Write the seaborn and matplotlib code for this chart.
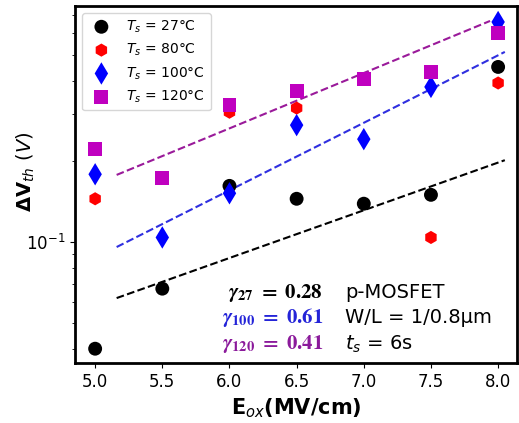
import numpy as np
import pandas as pd
import seaborn as sns
import matplotlib.pyplot as plt

# stress field (MV/cm)
e_ox = [5.0, 5.5, 6.0, 6.5, 7.0, 7.5, 8.0]

# threshold voltage shift (V) per stress temperature
dvth_27 = [0.040, 0.067, 0.162, 0.145, 0.139, 0.150, 0.450]
dvth_80 = [0.145, np.nan, 0.305, 0.316, np.nan, 0.104, 0.392]
dvth_100 = [0.179, 0.104, 0.152, 0.273, 0.242, 0.379, 0.662]
dvth_120 = [0.222, 0.173, 0.325, 0.366, 0.406, 0.431, 0.603]

# fitted lines (start / end)
fit_x = [5.16, 8.05]
fit_27 = [0.0618, 0.202]
fit_100 = [0.0958, 0.512]
fit_x_120 = [5.16, 7.94]
fit_120 = [0.178, 0.668]

gammas = ["0.28", "0.61", "0.41"]

df = pd.DataFrame({"Eox": e_ox * 4,
                   "dVth": dvth_27 + dvth_80 + dvth_100 + dvth_120,
                   "Ts": ["27"] * 7 + ["80"] * 7 + ["100"] * 7 + ["120"] * 7})

fig = plt.figure(figsize=(5.19, 4.23), dpi=100)
ax = fig.add_axes([0.1445, 0.142, 0.8515, 0.844])

styles = {"27": ("k", "o", 100), "80": ("r", "h", 90),
          "100": ("b", "d", 130), "120": ("m", "s", 100)}
for ts, (c, m, s) in styles.items():
    sub = df[df["Ts"] == ts]
    sns.scatterplot(data=sub, x="Eox", y="dVth", color=c, marker=m, s=s,
                    edgecolor="none", label=r"$T_s$ = %s°C" % ts, ax=ax, zorder=3)

sns.lineplot(x=fit_x, y=fit_27, color="k", linestyle="--", lw=1.5, ax=ax)
sns.lineplot(x=fit_x, y=fit_100, color="#2f2fe0", linestyle="--", lw=1.5, ax=ax)
sns.lineplot(x=fit_x_120, y=fit_120, color="#9a1a9a", linestyle="--", lw=1.5, ax=ax)

ax.set_yscale("log")
ax.set_xlim(4.85, 8.14)
ax.set_ylim(0.0354, 0.76)
ax.set_xticks([5.0, 5.5, 6.0, 6.5, 7.0, 7.5, 8.0])
ax.tick_params(labelsize=12)
for sp in ax.spines.values():
    sp.set_linewidth(2)

ax.set_xlabel(r"E$_{ox}$(MV/cm)", fontsize=15, fontweight="bold")
ax.set_ylabel(r"ΔV$_{th}$ $(V)$", fontsize=14, fontweight="bold")
ax.yaxis.set_label_coords(-0.086, 0.535)

ax.legend(loc="upper left", fontsize=10, markerscale=1.0, handletextpad=0.8)

gcolors = ["k", "#2424d8", "#8b1a9b"]
glabels = ["27", "100", "120"]
gy = [0.196, 0.126, 0.053]
for g, c, lab, y in zip(gammas, gcolors, glabels, gy):
    ax.text(0.561, y, r"$\boldsymbol{\gamma}_{\mathbf{%s}}\ \mathbf{=}\ \mathbf{%s}$" % (lab, g),
            color=c, fontsize=15, ha="right", va="center", transform=ax.transAxes,
            math_fontfamily="stix")

info = ["p-MOSFET", "W/L = 1/0.8μm", r"$t_s$ = 6s"]
for t, y in zip(info, gy):
    ax.text(0.611, y, t, fontsize=14, ha="left", va="center", transform=ax.transAxes)

plt.savefig("out.png", dpi=100)
